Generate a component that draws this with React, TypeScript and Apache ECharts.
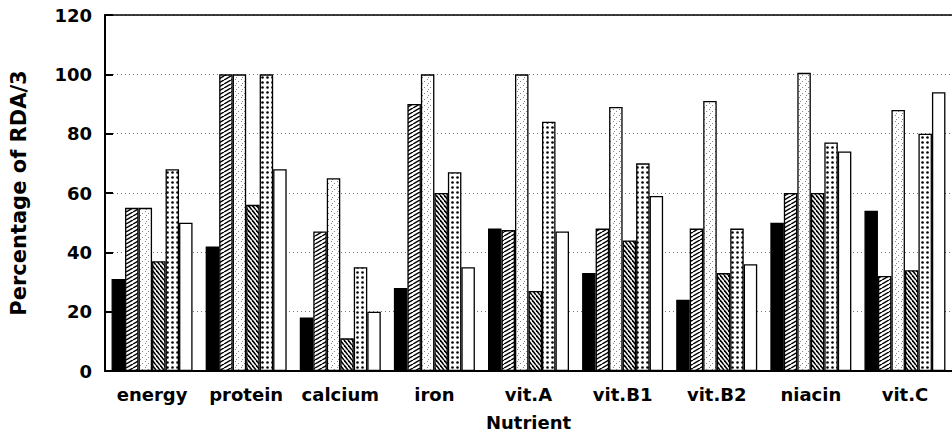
import React, { useEffect, useRef } from "react";
import * as echarts from "echarts";

const categories = ["energy", "protein", "calcium", "iron", "vit.A", "vit.B1", "vit.B2", "niacin", "vit.C"];
const seriesSolid = [31, 42, 18, 28, 48, 33, 24, 50, 54];
const seriesHatch = [55, 100, 47, 90, 47.5, 48, 48, 60, 32];
const seriesStipple = [55, 100, 65, 100, 100, 89, 91, 100.5, 88];
const seriesBackHatch = [37, 56, 11, 60, 27, 44, 33, 60, 34];
const seriesDots = [68, 100, 35, 67, 84, 70, 48, 77, 80];
const seriesWhite = [50, 68, 20, 35, 47, 59, 36, 74, 94];
const yTicks = [0, 20, 40, 60, 80, 100, 120];

function makeCanvas(w: number, h: number, draw: (ctx: CanvasRenderingContext2D) => void) {
  const c = document.createElement("canvas");
  c.width = w;
  c.height = h;
  const ctx = c.getContext("2d")!;
  ctx.fillStyle = "#fff";
  ctx.fillRect(0, 0, w, h);
  draw(ctx);
  return c;
}

function hatchForward() {
  const W = 7, H = 4;
  return makeCanvas(W, H, (ctx) => {
    ctx.strokeStyle = "#000";
    ctx.lineWidth = 1.5;
    for (const dx of [-W, 0, W]) {
      ctx.beginPath();
      ctx.moveTo(dx, H);
      ctx.lineTo(dx + W, 0);
      ctx.stroke();
    }
  });
}

function hatchBack() {
  const W = 4, H = 5;
  return makeCanvas(W, H, (ctx) => {
    ctx.strokeStyle = "#000";
    ctx.lineWidth = 1.6;
    for (const dx of [-W, 0, W]) {
      ctx.beginPath();
      ctx.moveTo(dx, 0);
      ctx.lineTo(dx + W, H);
      ctx.stroke();
    }
  });
}

function dots() {
  return makeCanvas(5, 5, (ctx) => {
    ctx.fillStyle = "#000";
    ctx.beginPath();
    ctx.arc(2.5, 2.5, 1.3, 0, Math.PI * 2);
    ctx.fill();
  });
}

function stipple() {
  return makeCanvas(6, 6, (ctx) => {
    ctx.fillStyle = "#888";
    ctx.fillRect(1, 1, 1, 1);
    ctx.fillRect(4, 3, 1, 1);
    ctx.fillRect(2, 5, 1, 1);
  });
}

export default function App() {
  const ref = useRef<HTMLDivElement>(null);
  useEffect(() => {
    if (!ref.current) return;
    const chart = echarts.init(ref.current, undefined, { renderer: "svg" });
    const pat = (c: HTMLCanvasElement) => ({ image: c, repeat: "repeat" as const });
    const fills: any[] = ["#000", pat(hatchForward()), pat(stipple()), pat(hatchBack()), pat(dots()), "#fff"];
    const data = [seriesSolid, seriesHatch, seriesStipple, seriesBackHatch, seriesDots, seriesWhite];
    const font = "DejaVu Sans";
    chart.setOption({
      animation: false,
      backgroundColor: "#fff",
      grid: { left: 105, right: -4, top: 15, bottom: 71 },
      xAxis: [
        {
          type: "category",
          data: categories,
          axisLine: { show: true, lineStyle: { color: "#000", width: 2 } },
          axisTick: { show: false },
          axisLabel: { color: "#000", fontFamily: font, fontWeight: "bold", fontSize: 18, margin: 14, interval: 0, hideOverlap: false },
          name: "Nutrient",
          nameLocation: "middle",
          nameGap: 42,
          nameTextStyle: { color: "#000", fontFamily: font, fontWeight: "bold", fontSize: 18 },
        },
        {
          type: "category",
          data: categories,
          position: "top",
          axisLine: { show: true, lineStyle: { color: "#000", width: 1.5 } },
          axisTick: { show: false },
          axisLabel: { show: false },
        },
      ],
      yAxis: {
        type: "value",
        min: yTicks[0],
        max: yTicks[yTicks.length - 1],
        interval: 20,
        axisLine: { show: true, lineStyle: { color: "#000", width: 2 } },
        axisTick: { show: true, inside: true, length: 8, lineStyle: { color: "#000", width: 2 } },
        axisLabel: { color: "#000", fontFamily: font, fontWeight: "bold", fontSize: 18, margin: 13 },
        splitLine: { show: true, lineStyle: { color: "#777", type: [1, 3], width: 1 } },
        name: "Percentage of RDA/3",
        nameLocation: "middle",
        nameGap: 76,
        nameTextStyle: { color: "#000", fontFamily: font, fontWeight: "bold", fontSize: 21 },
      },
      series: data.map((d, i) => ({
        type: "bar",
        name: "S" + (i + 1),
        data: d,
        barWidth: 13.5,
        barGap: "0%",
        itemStyle: { color: fills[i], borderColor: "#000", borderWidth: 1.3 },
      })),
    });
    return () => chart.dispose();
  }, []);
  return <div ref={ref} style={{ position: "fixed", left: 0, top: 0, width: 952, height: 442 }} />;
}
